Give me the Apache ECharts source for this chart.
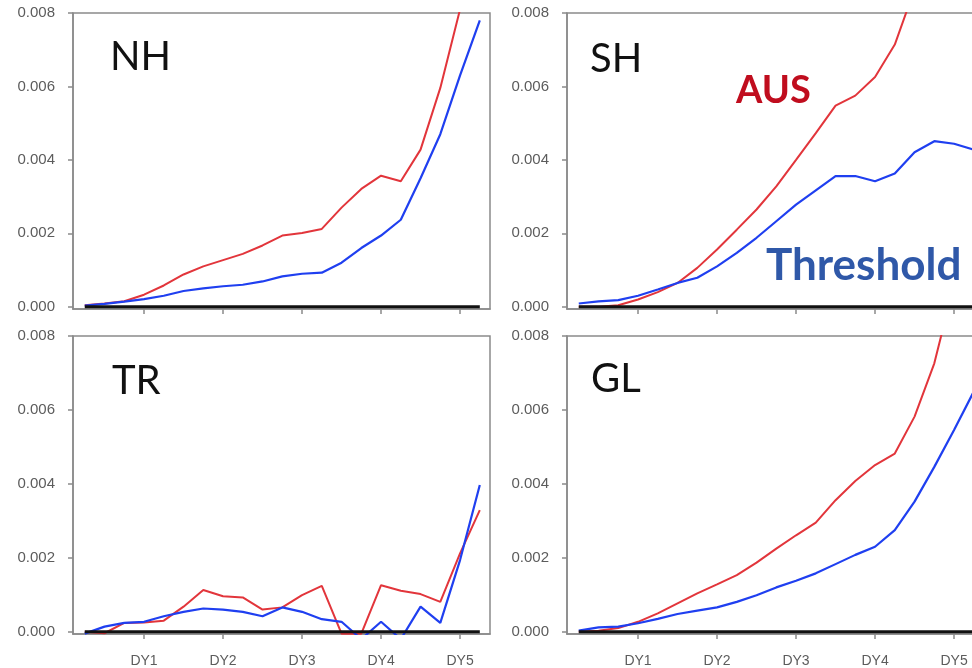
<!DOCTYPE html>
<html>
<head>
<meta charset="utf-8">
<script src="https://cdn.jsdelivr.net/npm/echarts@6/dist/echarts.min.js"></script>
<style>
html,body{margin:0;padding:0;background:#fff;}
#chart{width:972px;height:668px;}
</style>
</head>
<body>
<div id="chart"></div>
<script>
// Forecast lead time in days (6-hourly)
const leadDays = [0.25,0.5,0.75,1.0,1.25,1.5,1.75,2.0,2.25,2.5,2.75,3.0,3.25,3.5,3.75,4.0,4.25,4.5,4.75,5.0,5.25];
const dayTicks = [1,2,3,4,5];
const dayLabels = ['DY1','DY2','DY3','DY4','DY5'];
const yTicks = [0,0.002,0.004,0.006,0.008];
const panelNames = ['NH','SH','TR','GL'];
const baselineDays = [0.25,5.25];
const baselineVals = [0,0];

const nhAus = [0.00004,0.00009,0.00015,0.00033,0.00058,0.00088,0.0011,0.00127,0.00144,0.00167,0.00194,0.00201,0.00212,0.0027,0.00321,0.00357,0.00342,0.00428,0.00596,0.0081,0.0104];
const nhThr = [0.00003,0.00008,0.00014,0.00021,0.0003,0.00043,0.0005,0.00056,0.0006,0.00069,0.00083,0.0009,0.00093,0.0012,0.0016,0.00194,0.00237,0.0035,0.0047,0.0063,0.0078];

const shAus = [0.0,0.0,0.00004,0.0002,0.0004,0.00065,0.00106,0.00156,0.0021,0.00265,0.00328,0.004,0.00473,0.00548,0.00575,0.00626,0.00714,0.00865,0.0101,0.0115,0.0129];
const shThr = [0.00009,0.00015,0.00018,0.0003,0.00047,0.00065,0.00079,0.0011,0.00147,0.00188,0.00233,0.00278,0.00317,0.00356,0.00356,0.00342,0.00363,0.00421,0.00451,0.00444,0.00428];

const trAus = [0.0,-0.00004,0.00024,0.00025,0.0003,0.00068,0.00113,0.00096,0.00093,0.0006,0.00066,0.00099,0.00124,-0.00005,-0.00005,0.00126,0.00111,0.00102,0.00081,0.00212,0.00329];
const trThr = [-0.00005,0.00014,0.00024,0.00027,0.00042,0.00054,0.00063,0.0006,0.00054,0.00042,0.00066,0.00054,0.00034,0.00027,-0.0002,0.00027,-0.0002,0.00068,0.00024,0.00194,0.00397];

const glAus = [0.0,0.00003,0.0001,0.00027,0.0005,0.00077,0.00104,0.00128,0.00153,0.00187,0.00225,0.00261,0.00295,0.00356,0.00408,0.00451,0.00482,0.00582,0.00726,0.0094,0.0115];
const glThr = [0.00003,0.00012,0.00014,0.00023,0.00035,0.00048,0.00057,0.00066,0.00081,0.00099,0.0012,0.00138,0.00158,0.00183,0.00208,0.0023,0.00275,0.00352,0.00446,0.00546,0.0065];

const ausSeries = [nhAus, shAus, trAus, glAus];
const thrSeries = [nhThr, shThr, trThr, glThr];

const grids = [
  {left:73, top:13, width:417, height:296},
  {left:567, top:13, width:417, height:296},
  {left:73, top:336, width:417, height:298},
  {left:567, top:336, width:417, height:298}
];
const titlePos = [[110,57],[590,59],[112,381],[591,379]];

const AXIS_GRAY = '#8a8a8a';
const LABEL_GRAY = '#5c5c5c';
const RED = '#e2353b';
const BLUE = '#1f3ff0';

function pairs(xs, ys){ return xs.map((x,i)=>[x, ys[i]]); }

const option = {
  animation:false,
  backgroundColor:'#ffffff',
  grid: grids.map(g => Object.assign({show:true, borderColor:AXIS_GRAY, borderWidth:1.5, backgroundColor:'transparent', containLabel:false, outerBoundsMode:'none'}, g)),
  xAxis: grids.map((g,i) => ({
    type:'value', gridIndex:i, min:0.101, max:5.379,
    splitLine:{show:false},
    axisLine:{show:true, onZero:false, lineStyle:{color:AXIS_GRAY, width:1.5}},
    axisTick:{show:true, inside:false, length:5, customValues:dayTicks, lineStyle:{color:AXIS_GRAY, width:1.5}},
    axisLabel:{show: i>=2, customValues:dayTicks, margin:20,
      formatter: v => dayLabels[dayTicks.indexOf(Math.round(v))] || '',
      color:LABEL_GRAY, fontSize:14, fontFamily:'Liberation Sans'}
  })),
  yAxis: grids.map((g,i) => ({
    type:'value', gridIndex:i, min:-0.00006, max:0.008,
    splitLine:{show:false},
    axisLine:{show:true, onZero:false, lineStyle:{color:AXIS_GRAY, width:1.5}},
    axisTick:{show:true, inside:false, length:5, customValues:yTicks, lineStyle:{color:AXIS_GRAY, width:1.5}},
    axisLabel:{show:true, customValues:yTicks, margin:18,
      formatter: v => v.toFixed(3),
      color:LABEL_GRAY, fontSize:15, fontFamily:'Liberation Sans'}
  })),
  series: [],
  graphic: []
};

for (let i=0;i<4;i++){
  option.series.push({
    name:'AUS', type:'line', xAxisIndex:i, yAxisIndex:i, data:pairs(leadDays, ausSeries[i]),
    showSymbol:false, clip:true, lineStyle:{color:RED, width:2}, z:3
  });
  option.series.push({
    name:'Threshold', type:'line', xAxisIndex:i, yAxisIndex:i, data:pairs(leadDays, thrSeries[i]),
    showSymbol:false, clip:true, lineStyle:{color:BLUE, width:2.2}, z:4
  });
  option.series.push({
    name:'zero', type:'line', xAxisIndex:i, yAxisIndex:i, data:pairs(baselineDays, baselineVals),
    showSymbol:false, clip:true, lineStyle:{color:'#111111', width:3}, z:5
  });
  option.graphic.push({
    type:'text', x:titlePos[i][0], y:titlePos[i][1], z:10,
    style:{text:panelNames[i], font:'40px Lato', fill:'#111111', verticalAlign:'middle', textVerticalAlign:'middle'}
  });
}
option.graphic.push({
  type:'text', x:736, y:91, z:10,
  style:{text:'AUS', font:'bold 38px Lato', fill:'#c00d1e', verticalAlign:'middle', textVerticalAlign:'middle'}
});
option.graphic.push({
  type:'text', x:766, y:266, z:10,
  style:{text:'Threshold', font:'bold 44px Lato', fill:'#2f58a8', verticalAlign:'middle', textVerticalAlign:'middle'}
});

const chart = echarts.init(document.getElementById('chart'), null, {renderer:'canvas'});
chart.setOption(option);
</script>
</body>
</html>
